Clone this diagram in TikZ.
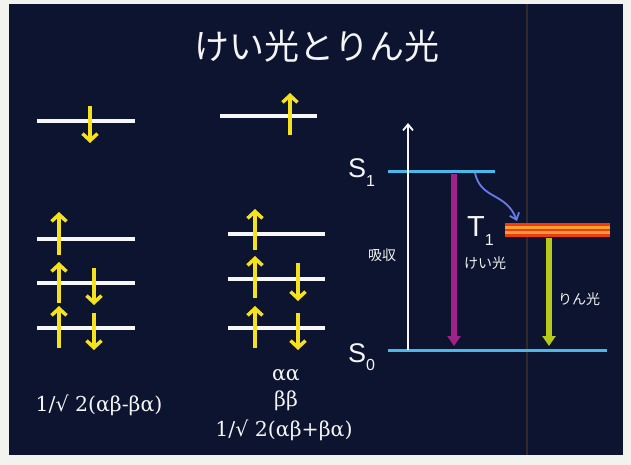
\documentclass[tikz,border=0pt]{standalone}
\usepackage{fontspec}
\setmainfont{DejaVu Serif}
\setsansfont{Liberation Sans}
\newfontfamily\jpfont{Noto Sans CJK JP}
\usetikzlibrary{arrows.meta,positioning,calc}
\definecolor{paper}{HTML}{F2F2EE}
\definecolor{slidebg}{HTML}{0D1430}
\definecolor{spinyellow}{HTML}{F5E11E}
\definecolor{levelcyan}{HTML}{4AB8E8}
\definecolor{fluopurple}{HTML}{A0208C}
\definecolor{phosgreen}{HTML}{B5C81E}
\definecolor{iscblue}{HTML}{6A7AE8}
\definecolor{tripred}{HTML}{F03A14}
\definecolor{triporange}{HTML}{FA9E34}
\definecolor{scanline}{HTML}{33292A}
\newcommand{\lowsub}[1]{\raisebox{-0.32em}{\fontsize{16}{16}\selectfont #1}}

\begin{document}
\begin{tikzpicture}[x=1pt,y=-1pt,
 level/.style={draw=white!94!gray,line width=3.5pt},
 spin/.style={draw=spinyellow,line width=3.5pt,-{Straight Barb[length=7pt,width=15pt]}},
 stateline/.style={draw=levelcyan,line width=3pt},
 emit/.style={line width=5.5pt,-{Triangle[length=10pt,width=13pt]}},
 formula/.style={font=\fontsize{20.5}{24}\selectfont,text=white!92!gray},
 jplabel/.style={font=\jpfont\fontsize{14}{16}\selectfont,text=white!90!gray}]
\useasboundingbox (0,0) rectangle (631,465);
\fill[paper] (0,0) rectangle (631,465);
\fill[slidebg] (9,4) rectangle (623,455);
\draw[scanline,line width=1.2pt] (527,4) -- (527,455);
\node[font=\jpfont\fontsize{35}{40}\selectfont,text=white!92!gray] (title) at (317,46) {けい光とりん光};
% orbital levels: singlet (left) and triplet (middle)
\foreach \y in {121,239,283,328}
 \draw[level] (37,\y) -- (135,\y);
\draw[level] (220,116) -- (317,116);
\foreach \y in {234,279,328}
 \draw[level] (228,\y) -- (325,\y);
\foreach \x/\ya/\yb in {90/106/143,59/255/212,59/303/262,94/268/305,59/348/306,94/313/350,
  290/135/93,255/250/209,255/298/256,298/263/301,255/348/306,298/313/350}
 \draw[spin] (\x,\ya) -- (\x,\yb);
\node[formula] (singlet) at (99,405) {1/√ 2(αβ-βα)};
\node[formula] (aa) at (286,375) {αα};
\node[formula] (bb) at (286,401) {ββ};
\node[formula] (triplet) at (284,430) {1/√ 2(αβ+βα)};
% Jablonski part
\coordinate (S1L) at (388,172); \coordinate (S1R) at (495,172);
\coordinate (S0L) at (388,350); \coordinate (S0R) at (607,350);
\coordinate (T1L) at (505,223); \coordinate (T1R) at (610,237);
\draw[stateline] (S1L) -- (S1R);
\draw[stateline] (S0L) -- (S0R);
\fill[tripred] (T1L) rectangle (T1R);
\draw[triporange,line width=2.4pt] (505,227.5) -- (610,227.5) (505,232.5) -- (610,232.5);
\node[font=\sffamily\fontsize{27}{30}\selectfont,text=white!92!gray,anchor=base west,inner sep=0pt] (S1) at (348,178) {S\lowsub{1}};
\node[font=\sffamily\fontsize{27}{30}\selectfont,text=white!92!gray,anchor=base west,inner sep=0pt] (S0) at (348,362) {S\lowsub{0}};
\node[font=\sffamily\fontsize{29}{32}\selectfont,text=white!92!gray,anchor=base west,inner sep=0pt] (T1) at (467,236) {T\lowsub{1}};
\draw[white!94!gray,line width=1.8pt,-{Straight Barb[length=6pt,width=10pt]}] (408,350) -- (408,123);
\draw[emit,fluopurple] (454,174) -- (454,346);
\draw[emit,phosgreen] (549,238) -- (549,346);
\draw[iscblue,line width=1.8pt,-{Straight Barb[length=6pt,width=10pt]}]
  (475,173) .. controls (481,200) and (506,192) .. (517,221);
\node[jplabel] (absorb) at (382,255) {吸収};
\node[jplabel] (fluo) at (485,263) {けい光};
\node[jplabel] (phos) at (579,299) {りん光};
\end{tikzpicture}
\end{document}
